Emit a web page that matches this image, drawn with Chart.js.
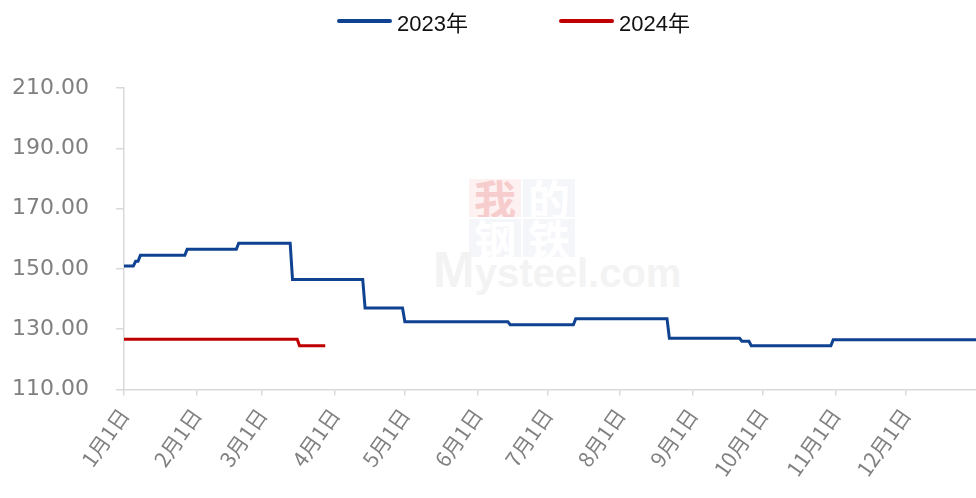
<!DOCTYPE html>
<html>
<head>
<meta charset="utf-8">
<script src="https://cdn.jsdelivr.net/npm/chart.js@4"></script>
<style>
  html, body { margin: 0; padding: 0; background: #fff; }
  #wrap { position: relative; width: 976px; height: 498px; }
  #chart { position: absolute; left: 0; top: 0; z-index: 2; }
  .legend { position: absolute; top: 5px; left: 0; width: 976px; z-index: 3;
    font-family: "Liberation Sans", "Noto Sans CJK SC", sans-serif; font-size: 22px; color: #111; }
  .legend .item { position: absolute; top: 0; display: flex; align-items: center; }
  .legend .swatch { display: inline-block; width: 55px; height: 4px; margin-right: 5px; border-radius: 2px; }
  .mark { position: absolute; z-index: 1; left: 469px; top: 179px; width: 108px; }
  .mark .sq { float: left; width: 52px; height: 38px; margin: 0 2px 2px 0; text-align: center;
    font-family: "Noto Sans CJK SC"; font-size: 42px; line-height: 38px; font-weight: 700;
    background: #f5f6fa; color: #fff; overflow: hidden; }
  .mark .sq.red { background: #fdf1f1; color: #f7cccc; }
  .mark .en { position: absolute; left: -36px; top: 62px; white-space: nowrap;
    font-family: "Liberation Sans"; font-weight: bold; font-size: 40px; color: #f3f3f3; }
  .mark .en b { font-size: 50px; }
</style>
</head>
<body>
<div id="wrap">
  <div class="mark">
    <div class="sq red">我</div><div class="sq">的</div>
    <div class="sq">钢</div><div class="sq">铁</div>
    <div class="en"><b>M</b>ysteel.com</div>
  </div>
  <div class="legend">
    <div class="item" style="left:337px"><span class="swatch" style="background:#0f4392"></span>2023年</div>
    <div class="item" style="left:559px"><span class="swatch" style="background:#c00000"></span>2024年</div>
  </div>
  <canvas id="chart" width="976" height="498"></canvas>
</div>
<script>
// month starts (day of year) and their labels
const monthStarts = [0, 31, 59, 90, 120, 151, 181, 212, 243, 273, 304, 334];
const monthLabels = ["1月1日", "2月1日", "3月1日", "4月1日", "5月1日", "6月1日",
  "7月1日", "8月1日", "9月1日", "10月1日", "11月1日", "12月1日"];

const yTicks = [110, 130, 150, 170, 190, 210];

// 2023 series: dates around each price change
const dates2023 = ["01-01", "01-05", "01-06", "01-07", "01-08", "01-27", "01-28", "02-18", "02-19",
  "03-13", "03-14", "04-13", "04-14", "04-30", "05-01", "06-14", "06-15", "07-12", "07-13",
  "08-21", "08-22", "09-21", "09-22", "09-25", "09-26", "10-30", "10-31", "12-31"];
const values2023 = [151, 151, 152.5, 152.5, 154.5, 154.5, 156.5, 156.5, 158.5,
  158.5, 146.5, 146.5, 137, 137, 132.5, 132.5, 131.5, 131.5, 133.5,
  133.5, 127, 127, 126, 126, 124.5, 124.5, 126.5, 126.5];

// 2024 series
const dates2024 = ["01-01", "03-16", "03-17", "03-28"];
const values2024 = [126.7, 126.7, 124.5, 124.5];

function dayOfYear(md) {
  const [m, d] = md.split("-").map(Number);
  return (Date.UTC(2023, m - 1, d) - Date.UTC(2023, 0, 1)) / 86400000;
}
function toPoints(dates, values) {
  return dates.map((d, i) => ({ x: dayOfYear(d), y: values[i] }));
}

const axisColor = "#d9d9d9";
const tickColor = "#808080";
const yPad = 27;

new Chart(document.getElementById("chart"), {
  type: "line",
  data: {
    datasets: [
      {
        label: "2023年",
        data: toPoints(dates2023, values2023),
        borderColor: "#0f4392",
        borderWidth: 3,
        pointRadius: 0,
        tension: 0,
      },
      {
        label: "2024年",
        data: toPoints(dates2024, values2024),
        borderColor: "#c00000",
        borderWidth: 3,
        pointRadius: 0,
        tension: 0,
      },
    ],
  },
  options: {
    responsive: false,
    animation: false,
    layout: { padding: { top: 88, left: 12, right: 0, bottom: 9 } },
    plugins: { legend: { display: false }, tooltip: { enabled: false } },
    scales: {
      x: {
        type: "linear",
        min: 0,
        max: 364,
        afterBuildTicks: (axis) => {
          axis.ticks = monthStarts.map((v) => ({ value: v }));
        },
        ticks: {
          autoSkip: false,
          maxRotation: 55,
          minRotation: 55,
          padding: 8,
          color: tickColor,
          font: { family: "Noto Sans CJK SC", size: 21 },
          callback: (v) => monthLabels[monthStarts.indexOf(v)],
        },
        grid: { drawOnChartArea: false, tickLength: 6, color: axisColor, lineWidth: 1.5 },
        border: { color: axisColor, width: 1.5 },
      },
      y: {
        min: 110,
        max: 210,
        afterBuildTicks: (axis) => {
          axis.ticks = yTicks.map((v) => ({ value: v }));
        },
        // the tick padding gets counted twice in the width, drop one
        afterFit: (axis) => {
          axis.width -= yPad;
        },
        ticks: {
          padding: yPad,
          color: tickColor,
          font: { family: "DejaVu Sans", size: 22 },
          callback: (v) => v.toFixed(2),
        },
        grid: { drawOnChartArea: false, tickLength: 8, color: axisColor, lineWidth: 1.5 },
        border: { color: axisColor, width: 1.5 },
      },
    },
  },
});
</script>
</body>
</html>
